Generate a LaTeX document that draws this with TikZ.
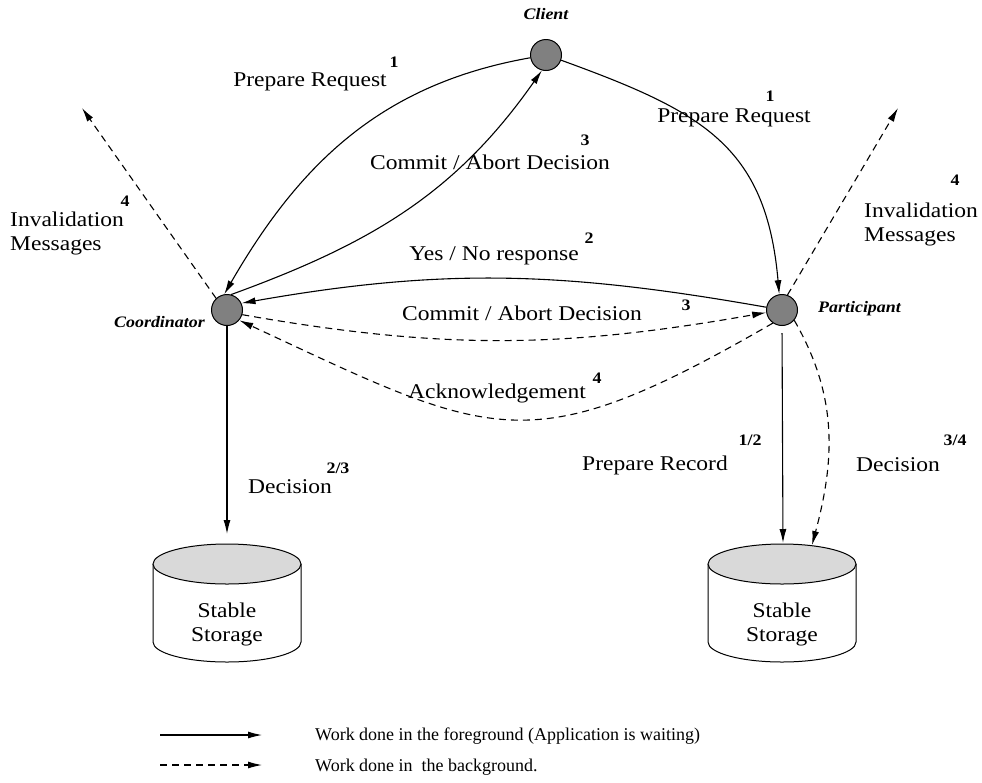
\documentclass[tikz,border=0pt]{standalone}
\usepackage{fontspec}
\setmainfont{Liberation Serif}
\newfontfamily\figfont[FakeStretch=1.12]{Liberation Serif}
\usetikzlibrary{arrows.meta}
\tikzset{>={Latex[length=14pt,width=7pt]}}

\begin{document}
\begin{tikzpicture}[x=1pt, y=1pt, font={\figfont\fontsize{21pt}{24pt}\selectfont},
	site/.style={circle, draw, fill=black!50, minimum size=31pt, inner sep=0pt, line width=1pt},
	role/.style={inner sep=0pt, font={\figfont\fontsize{16pt}{18pt}\selectfont\bfseries\itshape}},
	num/.style={inner sep=0pt, font={\figfont\fontsize{16pt}{18pt}\selectfont\bfseries}},
	lbl/.style={inner sep=0pt, align=left},
	fg/.style={->, line width=1.1pt},
	bg/.style={->, line width=1.1pt, dash pattern=on 7pt off 5pt}]
\useasboundingbox (0,0) rectangle (982,-782);

\node[site] (client) at (546,-55) {};
\node[site] (coord) at (227,-310) {};
\node[site] (part) at (782,-310) {};

\node[role] (clientName) at (546,-14) {Client};
\node[role, anchor=east] (coordName) at (205,-322) {Coordinator};
\node[role, anchor=west] (partName) at (818,-309) {Participant};

% stable storage
\foreach \cx/\nm in {227/stoL, 782/stoR} {
	\draw[line width=1pt, fill=white] ({\cx-74},-564) -- ({\cx-74},-642) arc[start angle=180, end angle=360, x radius=74pt, y radius=20pt] -- ({\cx+74},-564);
	\draw[line width=1pt, fill=black!15] (\cx,-564) ellipse [x radius=74pt, y radius=20pt];
	\node[align=center, inner sep=0pt] (\nm) at (\cx,-624) {Stable\\Storage};
}
\coordinate (stoL-in) at (227,-534);
\coordinate (stoR-in) at (783,-543);
\coordinate (stoR-dec) at (812,-545);
\coordinate (invL) at (82,-108);
\coordinate (invR) at (898,-108);

% labels
\node[lbl] (prepL) at (310,-82) {Prepare Request};
\node[num] (prepLn) at (394,-62) {1};
\node[lbl] (commitU) at (490,-162) {Commit / Abort Decision};
\node[num] (commitUn) at (585,-140) {3};
\node[lbl] (prepR) at (734,-118) {Prepare Request};
\node[num] (prepRn) at (770,-96) {1};
\node[lbl, anchor=west] (invLt) at (10,-233) {Invalidation\\Messages};
\node[num] (invLn) at (125,-201) {4};
\node[lbl, anchor=west] (invRt) at (864,-224) {Invalidation\\Messages};
\node[num] (invRn) at (955,-180) {4};
\node[lbl] (yesno) at (494,-256) {Yes / No response};
\node[num] (yesnon) at (589,-238) {2};
\node[lbl] (commitM) at (522,-313) {Commit / Abort Decision};
\node[num] (commitMn) at (686,-305) {3};
\node[lbl] (ack) at (497,-393) {Acknowledgement};
\node[num] (ackn) at (597,-378) {4};
\node[lbl] (decL) at (290,-487) {Decision};
\node[num] (decLn) at (338,-468) {2/3};
\node[lbl] (record) at (655,-465) {Prepare Record};
\node[num] (recordn) at (750,-440) {1/2};
\node[lbl] (decR) at (898,-465) {Decision};
\node[num] (decRn) at (955,-440) {3/4};

% messages
\draw[fg] (client.190) to[out=190, in=60] (coord.100);
\draw[fg] (coord.75) to[out=20, in=235] (client.255);
\draw[fg] (client.-19) to[out=-20, in=95, looseness=1.2] (part.100);
\draw[fg] (part.170) to[out=170, in=10] (coord.25);
\draw[bg] (coord.-17) to[out=-10, in=190] (part.189);
\draw[bg] (part.235) to[out=210, in=-25, looseness=1.35] (coord.-40);
\draw[bg] (coord.133) -- (invL);
\draw[bg] (part.70) -- (invR);

% logging
\draw[fg] (coord.south) -- (stoL-in);
\draw[fg, shorten <=7pt] (part.south) -- (stoR-in);
\draw[bg] (part.-40) to[out=-60, in=75] (stoR-dec);

% legend
\coordinate (fgA) at (160,-735);
\coordinate (fgB) at (262,-735);
\coordinate (bgA) at (160,-765);
\coordinate (bgB) at (262,-765);
\draw[fg] (fgA) -- (fgB);
\draw[bg] (bgA) -- (bgB);
\node[lbl, anchor=west, font={\rmfamily\fontsize{18pt}{20pt}\selectfont}] (fgText) at (315,-736) {Work done in the foreground (Application is waiting)};
\node[lbl, anchor=west, font={\rmfamily\fontsize{18pt}{20pt}\selectfont}] (bgText) at (315,-767) {Work done in~ the background.};
\end{tikzpicture}
\end{document}
